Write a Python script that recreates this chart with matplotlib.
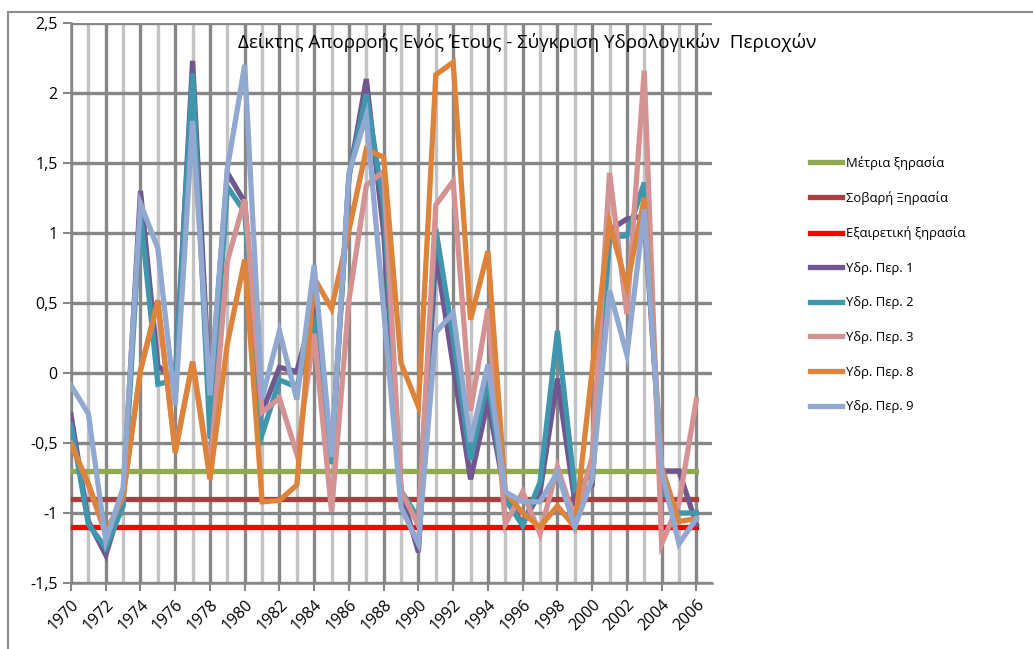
import numpy as np
import matplotlib
matplotlib.use("Agg")
import matplotlib.pyplot as plt
from matplotlib.patches import Rectangle

plt.rcParams['font.family'] = ['Open Sans', 'DejaVu Sans']

years = np.arange(1970, 2007)

moderate = [-0.7] * len(years)
severe = [-0.9] * len(years)
extreme = [-1.1] * len(years)

per1 = [-0.30, -1.06, -1.30, -0.90, 1.30, 0.05, -0.05, 2.23, -0.18, 1.43,
        1.22, -0.28, 0.04, 0.01, 0.47, -0.60, 1.40, 2.10, 1.00, -0.85,
        -1.28, 0.86, 0.05, -0.76, -0.20, -0.88, -1.08, -0.85, -0.04, -0.92,
        -0.80, 1.02, 1.10, 1.12, -0.70, -0.70, -1.08]
per2 = [-0.37, -1.08, -1.25, -0.95, 1.14, -0.08, -0.05, 2.14, -0.47, 1.33,
        1.15, -0.44, -0.05, -0.10, 0.34, -0.65, 1.41, 1.99, 1.20, -0.84,
        -1.04, 1.03, 0.25, -0.62, -0.05, -0.90, -1.09, -0.78, 0.30, -0.83,
        -0.72, 0.97, 0.98, 1.36, -0.83, -1.00, -1.00]
per3 = [-0.50, -0.80, -1.15, -0.88, 0.02, 0.50, -0.55, 0.08, -0.70, 0.80,
        1.24, -0.28, -0.18, -0.58, 0.28, -0.99, 0.52, 1.34, 1.44, -0.84,
        -1.09, 1.20, 1.37, -0.27, 0.46, -1.08, -0.85, -1.15, -0.67, -1.05,
        -0.60, 1.43, 0.42, 2.16, -1.22, -0.93, -0.19]
per8 = [-0.51, -0.79, -1.14, -0.88, 0.02, 0.52, -0.57, 0.08, -0.76, 0.21,
        0.81, -0.92, -0.91, -0.80, 0.68, 0.46, 1.02, 1.60, 1.54, 0.07,
        -0.24, 2.13, 2.22, 0.38, 0.87, -0.85, -1.00, -1.10, -0.95, -1.10,
        0.02, 1.07, 0.62, 1.25, -0.67, -1.06, -1.04]
per9 = [-0.09, -0.29, -1.20, -0.82, 1.21, 0.89, -0.23, 1.80, -0.16, 1.46,
        2.20, -0.18, 0.30, -0.19, 0.77, -0.60, 1.43, 1.84, 0.45, -0.96,
        -1.22, 0.29, 0.43, -0.49, 0.06, -0.85, -0.92, -0.92, -0.71, -1.10,
        -0.76, 0.59, 0.13, 1.17, -0.70, -1.22, -1.04]

series = [
    ("Μέτρια ξηρασία", moderate, "#8eab4f"),
    ("Σοβαρή Ξηρασία", severe, "#a8403d"),
    ("Εξαιρετική ξηρασία", extreme, "#ff0000"),
    ("Υδρ. Περ. 1", per1, "#71578f"),
    ("Υδρ. Περ. 2", per2, "#3f97ae"),
    ("Υδρ. Περ. 3", per3, "#d49292"),
    ("Υδρ. Περ. 8", per8, "#dd833a"),
    ("Υδρ. Περ. 9", per9, "#91a8d0"),
]

fig = plt.figure(figsize=(10.33, 6.49), dpi=100)
ax = fig.add_axes([71 / 1033, 1 - 583 / 649, (712 - 71) / 1033, (583 - 23) / 649])

# outer chart frame
fig.patches.append(Rectangle((8 / 1033, -0.1), 1.2, 1 - 12 / 649 + 0.1,
                             transform=fig.transFigure, fill=False,
                             edgecolor="#8c8c8c", linewidth=1.5))

# grid: every year, darker at even years
for y in years:
    col = "#878787" if y % 2 == 0 else "#c3c3c3"
    ax.axvline(y, color=col, linewidth=2.4, zorder=1)
for v in np.arange(-1.5, 2.51, 0.5):
    ax.axhline(v, color="#878787", linewidth=2.4, zorder=1)

for name, vals, col in series:
    ax.plot(years, vals, color=col, linewidth=3.8, label=name, zorder=3,
            solid_joinstyle="miter")

ax.set_xlim(1970, 2006.9)
ax.set_ylim(-1.5, 2.5)
ax.set_yticks(np.arange(-1.5, 2.51, 0.5))
ax.set_yticklabels([("%g" % v).replace(".", ",") for v in np.arange(-1.5, 2.51, 0.5)],
                   fontsize=11.5)
ax.set_xticks(years[::2])
ax.set_xticklabels([str(y) for y in years[::2]], rotation=45, ha="right",
                   rotation_mode="anchor", fontsize=11.5)
ax.tick_params(axis="both", direction="out", length=6, width=1.5, color="#878787")
ax.tick_params(axis="x", pad=4)
for s in ["top", "right"]:
    ax.spines[s].set_visible(False)
for s in ["left", "bottom"]:
    ax.spines[s].set_color("#878787")
    ax.spines[s].set_linewidth(1.8)

fig.text(527 / 1033, 1 - 42 / 649,
         "Δείκτης Απορροής Ενός Έτους - Σύγκριση Υδρολογικών  Περιοχών",
         ha="center", va="center", fontsize=13.5)

fig.legend(loc="upper left", bbox_to_anchor=(798 / 1033, 1 - 144 / 649),
           frameon=False, fontsize=9.4, handlelength=2.5, labelspacing=1.65,
           handletextpad=0.3)

fig.savefig("out.png", dpi=100)
